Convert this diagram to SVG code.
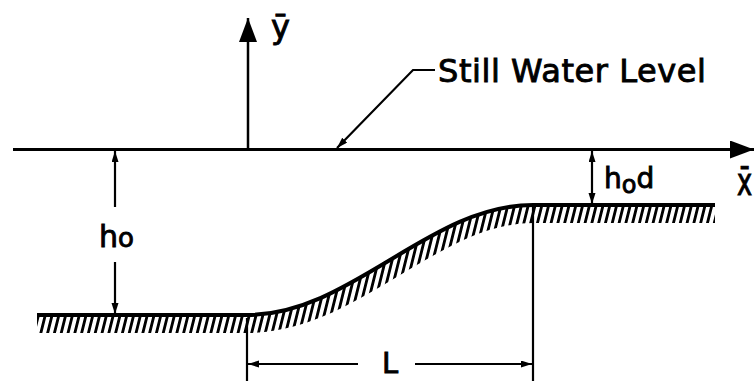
<svg xmlns="http://www.w3.org/2000/svg" width="754" height="381" viewBox="0 0 754 381">
<style>
.ln{stroke:#000;fill:none;stroke-linecap:butt}
.axis{stroke-width:3}
.dim{stroke-width:2.2}
.bed{stroke-width:4;stroke-linejoin:round}
text{font-family:"DejaVu Sans","Liberation Sans",sans-serif;fill:#000;stroke:#000;stroke-width:0.9}
</style>
<defs>
<marker id="axisHead" markerUnits="userSpaceOnUse" markerWidth="26" markerHeight="20" refX="24" refY="9" orient="auto">
<path d="M0,0 L24,9 L0,18 Z" fill="#000"/>
</marker>
<marker id="dimHead" markerUnits="userSpaceOnUse" markerWidth="12" markerHeight="8" refX="11" refY="3.5" orient="auto-start-reverse">
<path d="M0,0 L11,3.5 L0,7 Z" fill="#000"/>
</marker>
<pattern id="hatch" patternUnits="userSpaceOnUse" width="6.8" height="40" patternTransform="skewX(-14)">
<rect x="0" y="0" width="2.9" height="40" fill="#000"/>
</pattern>
<clipPath id="belowBed">
<path d="M37,315 L247,315 C298.7,315 343.3,288.2 390,260 C436.7,231.8 481.3,205 533,205 L715,205 L715,381 L37,381 Z"/>
</clipPath>
</defs>

<g id="bed">
<path d="M37,315 L247,315 C298.7,315 343.3,288.2 390,260 C436.7,231.8 481.3,205 533,205 L715,205" fill="none" stroke="url(#hatch)" stroke-width="36" clip-path="url(#belowBed)"/>
<path class="ln bed" d="M37,315 L247,315 C298.7,315 343.3,288.2 390,260 C436.7,231.8 481.3,205 533,205 L715,205"/>
</g>

<g id="connectors">
<line id="water-level" class="ln axis" x1="13" y1="149.5" x2="754" y2="149.5" marker-end="url(#axisHead)"/>
<line id="y-axis" class="ln" stroke-width="2.5" x1="248" y1="150" x2="248" y2="18" marker-end="url(#axisHead)"/>
<polyline id="leader" class="ln dim" points="435,70 413,70 337,148" marker-end="url(#dimHead)"/>
<g id="dim-h0">
<line class="ln dim" x1="115" y1="207" x2="115" y2="151" marker-end="url(#dimHead)"/>
<line class="ln dim" x1="115" y1="262" x2="115" y2="314" marker-end="url(#dimHead)"/>
</g>
<g id="dim-h0d">
<line class="ln dim" x1="592" y1="151" x2="592" y2="204" marker-start="url(#dimHead)" marker-end="url(#dimHead)"/>
</g>
<g id="dim-L">
<line class="ln dim" x1="247" y1="318" x2="247" y2="381"/>
<line class="ln dim" x1="533" y1="207" x2="533" y2="381"/>
<line class="ln dim" x1="358" y1="364" x2="248" y2="364" marker-end="url(#dimHead)"/>
<line class="ln dim" x1="415" y1="364" x2="532" y2="364" marker-end="url(#dimHead)"/>
</g>
</g>

<g id="labels">
<text id="label-y" x="271" y="38" font-size="32">ȳ</text>
<text id="label-x" transform="translate(737,195) scale(0.8,1.2)" x="0" y="0" font-size="32">x̄</text>
<text id="label-still-water" x="438" y="82" font-size="32" textLength="268" lengthAdjust="spacing">Still Water Level</text>
<text id="label-h0" x="99" y="247" font-size="30">h<tspan font-size="26">o</tspan></text>
<text id="label-h0d" x="604" y="188" font-size="28">h<tspan dy="5" font-size="24">o</tspan><tspan dy="-5">d</tspan></text>
<text id="label-L" x="382" y="373" font-size="29">L</text>
</g>
</svg>
